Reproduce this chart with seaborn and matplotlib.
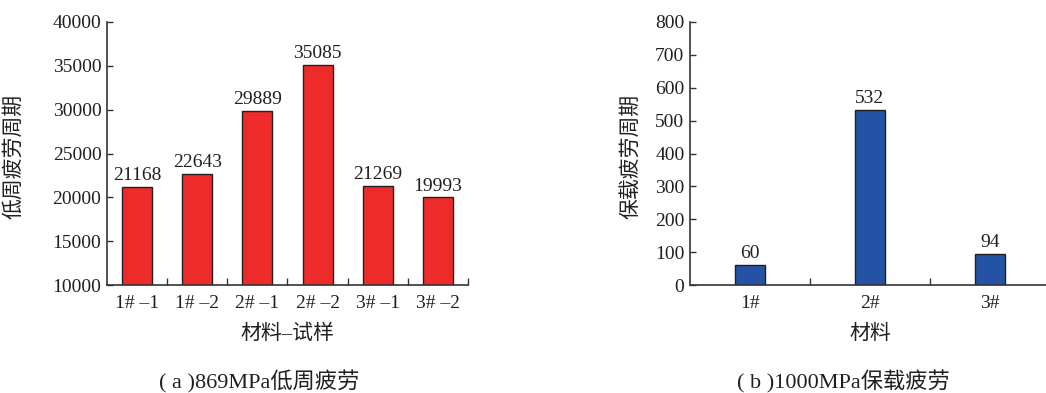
import matplotlib
matplotlib.use("Agg")
import matplotlib.pyplot as plt
import seaborn as sns
import pandas as pd

# Low-cycle fatigue life at 869 MPa, per material/specimen
lcf_samples = ["1# \u20131", "1# \u20132", "2# \u20131", "2# \u20132", "3# \u20131", "3# \u20132"]
lcf_cycles = [21168, 22643, 29889, 35085, 21269, 19993]
lcf_yticks = [10000, 15000, 20000, 25000, 30000, 35000, 40000]

# Dwell fatigue life at 1000 MPa, per material
dwell_materials = ["1#", "2#", "3#"]
dwell_cycles = [60, 532, 94]
dwell_yticks = [0, 100, 200, 300, 400, 500, 600, 700, 800]

sns.set_theme(style="white")
plt.rcParams["font.family"] = ["Liberation Serif", "Noto Sans CJK SC"]
plt.rcParams["axes.unicode_minus"] = False

INK = "#231f20"
SPINE = "#333333"
FS = 14

fig = plt.figure(figsize=(10.46, 3.93), dpi=100)
W, H = 1046, 393
ax1 = fig.add_axes([107 / W, 1 - 285 / H, 361 / W, 263 / H])
ax2 = fig.add_axes([690 / W, 1 - 285 / H, 360 / W, 263 / H])

df1 = pd.DataFrame({"sample": lcf_samples, "cycles": lcf_cycles})
df2 = pd.DataFrame({"material": dwell_materials, "cycles": dwell_cycles})

sns.barplot(data=df1, x="sample", y="cycles", color="#ee2b2b", saturation=1,
            width=0.5, edgecolor=INK, linewidth=1.0, ax=ax1)
sns.barplot(data=df2, x="material", y="cycles", color="#2453a5", saturation=1,
            width=0.25, edgecolor=INK, linewidth=1.0, ax=ax2)


def style_axis(ax, yticks, n, xlabel, ylabel, ylabel_x):
    ax.set_ylim(yticks[0], yticks[-1])
    ax.set_yticks(yticks)
    ax.set_xlim(-0.5, n - 0.5)
    for side in ("top", "right"):
        ax.spines[side].set_visible(False)
    for side in ("left", "bottom"):
        ax.spines[side].set_color(SPINE)
        ax.spines[side].set_linewidth(1.2)
    ax.tick_params(axis="y", direction="in", length=4, width=1.0, color=SPINE,
                   labelsize=FS, labelcolor=INK, pad=4, left=True)
    ax.tick_params(axis="x", which="major", length=0, labelsize=FS,
                   labelcolor=INK, pad=7)
    # tick marks sit on the category boundaries
    ax.set_xticks([i + 0.5 for i in range(n)], minor=True)
    ax.tick_params(axis="x", which="minor", direction="in", length=5,
                   width=1.0, color=SPINE, bottom=True)
    ax.set_xlabel(xlabel, fontsize=15, color=INK)
    ax.set_ylabel(ylabel, fontsize=15, color=INK)
    ax.xaxis.set_label_coords(0.5, -0.15)
    ax.yaxis.set_label_coords(ylabel_x, 0.49)
    ax.grid(False)
    for c in ax.containers:
        ax.bar_label(c, padding=2, fontsize=FS, color=INK)


style_axis(ax1, lcf_yticks, len(lcf_samples), "材料–试样", "低周疲劳周期", -0.23)
style_axis(ax2, dwell_yticks, len(dwell_materials), "材料", "保载疲劳周期", -0.135)

fig.text(259 / W, 1 - 382 / H, "( a )869MPa低周疲劳", ha="center", va="center",
         fontsize=16, color=INK)
fig.text(843 / W, 1 - 382 / H, "( b )1000MPa保载疲劳", ha="center", va="center",
         fontsize=16, color=INK)

fig.savefig("out.png", dpi=100, facecolor="white")
